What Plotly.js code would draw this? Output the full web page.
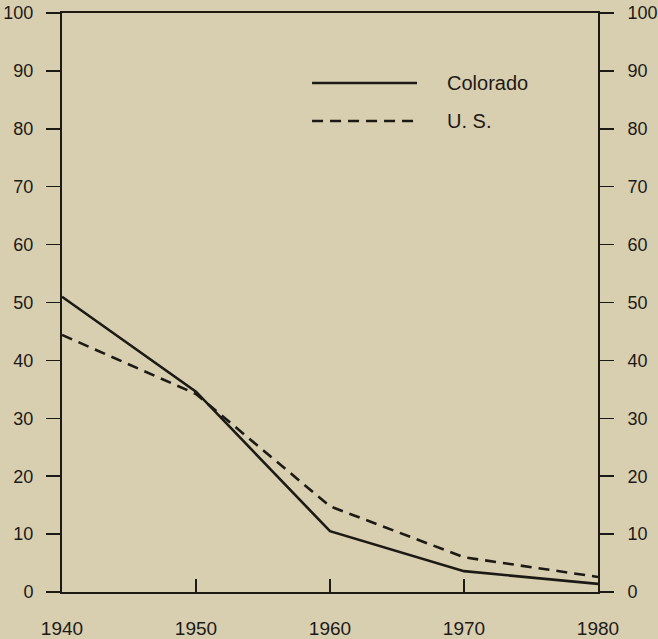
<!DOCTYPE html>
<html>
<head>
<meta charset="utf-8">
<script src="https://cdn.plot.ly/plotly-3.0.1.min.js"></script>
<style>html,body{margin:0;padding:0;background:#d8cfb0;}</style>
</head>
<body>
<div id="chart" style="width:658px;height:639px;"></div>
<script>
const years = [1940, 1950, 1960, 1970, 1980];
const colorado = [51, 34.6, 10.5, 3.6, 1.4];
const us = [44.4, 34.2, 14.8, 6.0, 2.6];
const yTicks = [0, 10, 20, 30, 40, 50, 60, 70, 80, 90, 100];
const xTicks = [1940, 1950, 1960, 1970, 1980];
const seriesNames = ['Colorado', 'U. S.'];

const ink = '#1d1a16';
const bg = '#d8cfb0';
const fam = 'Liberation Sans, Arial, sans-serif';
const yFont = {family: fam, size: 18, color: ink};
const xFont = {family: fam, size: 19, color: ink};

const traces = [
  {x: years, y: colorado, mode: 'lines', name: seriesNames[0], line: {color: ink, width: 2.6}, showlegend: false},
  {x: years, y: us, mode: 'lines', name: seriesNames[1], yaxis: 'y2', line: {color: ink, width: 2.6, dash: '11px,7px'}, showlegend: false}
];

const layout = {
  width: 658, height: 639,
  margin: {l: 62, r: 60, t: 13, b: 47},
  paper_bgcolor: bg, plot_bgcolor: bg,
  font: yFont,
  showlegend: false,
  xaxis: {
    range: [1940, 1980], tickvals: xTicks, ticktext: xTicks.map(String),
    showgrid: false, zeroline: false, showline: true, linecolor: ink, linewidth: 1.8,
    mirror: true, ticks: 'inside', ticklen: 13, tickwidth: 1.5, tickcolor: ink,
    ticklabelstandoff: 18, tickfont: xFont
  },
  yaxis: {
    range: [0, 100], tickvals: yTicks, ticktext: yTicks.map(String),
    showgrid: false, zeroline: false, showline: true, linecolor: ink, linewidth: 2,
    ticks: 'outside', ticklen: 14, tickwidth: 1.5, tickcolor: ink,
    ticklabelstandoff: 9, tickfont: yFont
  },
  yaxis2: {
    range: [0, 100], tickvals: yTicks, ticktext: yTicks.map(String),
    overlaying: 'y', side: 'right', anchor: 'x',
    showgrid: false, zeroline: false, showline: true, linecolor: ink, linewidth: 2,
    ticks: 'outside', ticklen: 14, tickwidth: 1.5, tickcolor: ink,
    ticklabelstandoff: 10, tickfont: yFont
  },
  shapes: [
    {type: 'line', xref: 'x', yref: 'y', x0: 1958.66, x1: 1966.49, y0: 87.9, y1: 87.9, line: {color: ink, width: 2.6}},
    {type: 'line', xref: 'x', yref: 'y', x0: 1958.66, x1: 1966.49, y0: 81.35, y1: 81.35, line: {color: ink, width: 2.6, dash: '11px,7px'}}
  ],
  annotations: [
    {xref: 'x', yref: 'y', x: 1968.58, y: 87.9, text: seriesNames[0], showarrow: false, xanchor: 'left', yanchor: 'middle', font: {family: fam, size: 20, color: ink}},
    {xref: 'x', yref: 'y', x: 1968.58, y: 81.35, text: seriesNames[1], showarrow: false, xanchor: 'left', yanchor: 'middle', font: {family: fam, size: 20, color: ink}}
  ]
};

Plotly.newPlot('chart', traces, layout, {displayModeBar: false, staticPlot: true});
</script>
</body>
</html>
